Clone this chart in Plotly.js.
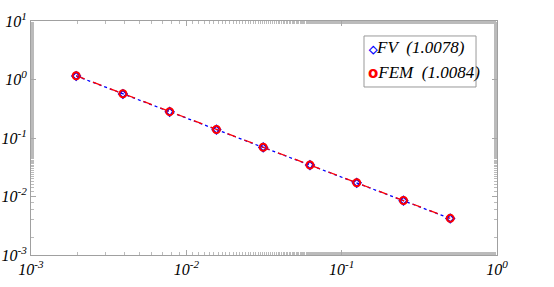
<!DOCTYPE html>
<html><head><meta charset="utf-8">
<script src="https://cdn.plot.ly/plotly-3.0.1.min.js"></script>
<style>body{margin:0;background:#fff}#c{width:554px;height:287px}</style>
</head><body><div id="c"></div>
<script>
const h = [1/512, 1/256, 1/128, 1/64, 1/32, 1/16, 1/8, 1/4, 1/2];
const errFV = [1.15, 0.565, 0.28, 0.139, 0.069, 0.0344, 0.0171, 0.0085, 0.0042];
const errFEM = [1.16, 0.57, 0.282, 0.14, 0.0695, 0.0346, 0.0172, 0.00855, 0.00423];
const xTickVals = [1e-3, 1e-2, 1e-1, 1];
const xTickText = ['10<sup>-3</sup>', '10<sup>-2</sup>', '10<sup>-1</sup>', '10<sup>0</sup>'];
const yTickVals = [1e-3, 1e-2, 1e-1, 1, 10];
const yTickText = ['10<sup>-3</sup>', '10<sup>-2</sup>', '10<sup>-1</sup>', '10<sup>0</sup>', '10<sup>1</sup>'];
const names = ['FV\u00a0\u00a0(1.0078)', 'FEM\u00a0\u00a0(1.0084)'];
const colors = ['#0000ff', '#ff0000'];
const glyphs = ['\u25c7', 'o'];
const glyphSizes = [11, 15];
const glyphFonts = ['Liberation Serif', 'DejaVu Sans'];

const fam = '"Liberation Serif", "Times New Roman", serif';
const tickFont = {family: fam, size: 16, color: '#000', style: 'italic'};
const legFont = {family: fam, size: 17, color: '#000', style: 'italic'};
const traces = [
  {x: h, y: errFV, mode: 'lines', type: 'scatter', showlegend: false,
   line: {color: colors[0], dash: 'dot', width: 1.3}},
  {x: h, y: errFEM, mode: 'lines', type: 'scatter', showlegend: false,
   line: {color: colors[1], dash: 'dash', width: 1.3}},
  {x: h, y: errFV, name: names[0], mode: 'markers', type: 'scatter', showlegend: false,
   marker: {symbol: 'diamond-open', size: 6, color: colors[0], line: {width: 2}}},
  {x: h, y: errFEM, name: names[1], mode: 'markers', type: 'scatter', showlegend: false,
   marker: {symbol: 'circle-open', size: 7, color: colors[1], line: {width: 2}}}
];
const axBase = {type: 'log', showgrid: false, zeroline: false, showline: true, linecolor: '#a0a0a0',
  linewidth: 1, mirror: 'ticks', ticks: 'inside', ticklen: 5, tickcolor: '#a8a8a8',
  minor: {ticks: 'inside', ticklen: 3, tickcolor: '#bbbbbb', showgrid: false},
  tickfont: tickFont, tickmode: 'array'};
const legY = [0.885, 0.778];
const layout = {
  width: 554, height: 287,
  margin: {l: 31, r: 57, t: 21, b: 32},
  paper_bgcolor: '#fff', plot_bgcolor: '#fff',
  showlegend: false,
  shapes: [{type: 'rect', xref: 'paper', yref: 'paper', x0: 0.7146, x1: 0.955, y0: 0.718, y1: 0.936,
    line: {color: '#999', width: 1}, fillcolor: '#fff', layer: 'above'}],
  annotations: names.map((n, i) => ({xref: 'paper', yref: 'paper', x: 0.718, y: legY[i],
    xanchor: 'left', yanchor: 'middle', showarrow: false, font: legFont,
    text: '<span style="color:' + colors[i] + ';font-family:' + glyphFonts[i] + ';font-style:normal;font-weight:bold;font-size:' + glyphSizes[i] + 'px">' + glyphs[i] + '</span>' + n})),
  xaxis: Object.assign({}, axBase, {range: [-3, 0], tickvals: xTickVals, ticktext: xTickText}),
  yaxis: Object.assign({}, axBase, {range: [-3, 1], tickvals: yTickVals, ticktext: yTickText})
};
Plotly.newPlot('c', traces, layout, {displayModeBar: false, staticPlot: true});
</script></body></html>
